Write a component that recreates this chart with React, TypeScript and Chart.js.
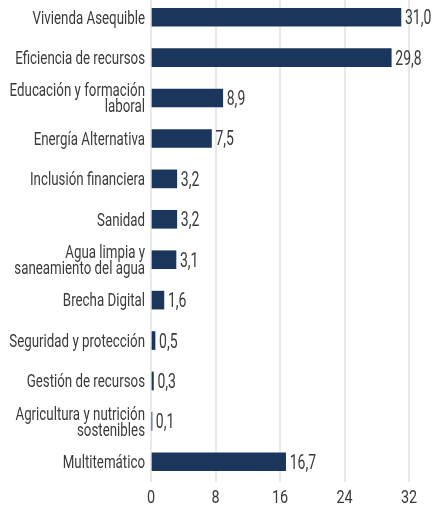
import React, { useEffect, useRef } from "react";
import { Chart, registerables } from "chart.js";

Chart.register(...registerables);

const categories: string[][] = [
  ["Vivienda Asequible"],
  ["Eficiencia de recursos"],
  ["Educación y formación", "laboral"],
  ["Energía Alternativa"],
  ["Inclusión financiera"],
  ["Sanidad"],
  ["Agua limpia y", "saneamiento del agua"],
  ["Brecha Digital"],
  ["Seguridad y protección"],
  ["Gestión de recursos"],
  ["Agricultura y nutrición", "sostenibles"],
  ["Multitemático"],
];

const values: number[] = [31.0, 29.8, 8.9, 7.5, 3.2, 3.2, 3.1, 1.6, 0.5, 0.3, 0.1, 16.7];

const xTicks: number[] = [0, 8, 16, 24, 32];

const FONT = "Roboto, 'DejaVu Sans Condensed', sans-serif";
const BAR_COLOR = "#1b365d";
const TEXT_COLOR = "#3a3a3a";
const GRID_COLOR = "#e9e9e9";

function narrowText(
  ctx: CanvasRenderingContext2D,
  text: string,
  x: number,
  y: number,
  align: CanvasTextAlign,
  size: number,
  sx: number
) {
  ctx.save();
  ctx.translate(x, y);
  ctx.scale(sx, 1);
  ctx.font = `${size}px ${FONT}`;
  ctx.textAlign = align;
  ctx.textBaseline = "alphabetic";
  ctx.fillStyle = TEXT_COLOR;
  ctx.fillText(text, 0, 0);
  ctx.restore();
}

const customText = {
  id: "customText",
  afterDraw(chart: any) {
    const ctx: CanvasRenderingContext2D = chart.ctx;
    const area = chart.chartArea;
    const yScale = chart.scales.y;
    const xScale = chart.scales.x;
    const meta = chart.getDatasetMeta(0);

    // category labels
    const catSize = 18.5;
    const pitch = 16;
    chart.data.labels.forEach((lab: string[], i: number) => {
      const cy = yScale.getPixelForValue(i);
      const n = lab.length;
      lab.forEach((line: string, j: number) => {
        const by = cy + (j - (n - 1) / 2) * pitch + 6.3;
        narrowText(ctx, line, area.left - 6, by, "right", catSize, 0.72);
      });
    });

    // value labels
    meta.data.forEach((bar: any, i: number) => {
      const v = chart.data.datasets[0].data[i] as number;
      narrowText(ctx, v.toFixed(1).replace(".", ","), bar.x + 4, bar.y + 7, "left", 20, 0.7);
    });

    // x tick labels
    xTicks.forEach((t) => {
      const px = xScale.getPixelForValue(t);
      narrowText(ctx, String(t), px, area.bottom + 21, "center", 18, 0.8);
    });
  },
};

export default function App() {
  const ref = useRef<HTMLCanvasElement | null>(null);

  useEffect(() => {
    document.body.style.margin = "0";
    if (!ref.current) return;
    const chart = new Chart(ref.current, {
      type: "bar",
      data: {
        labels: categories as any,
        datasets: [
          {
            data: values,
            backgroundColor: BAR_COLOR,
            barThickness: 18,
          },
        ],
      },
      options: {
        indexAxis: "y",
        animation: false,
        responsive: false,
        maintainAspectRatio: false,
        layout: { padding: { left: 0, right: 25, top: 0, bottom: 0 } },
        plugins: {
          legend: { display: false },
          tooltip: { enabled: false },
        },
        scales: {
          x: {
            min: 0,
            max: 32,
            afterBuildTicks: (scale: any) => {
              scale.ticks = xTicks.map((v) => ({ value: v }));
            },
            afterFit: (scale: any) => {
              scale.height = 23;
            },
            grid: { color: GRID_COLOR, lineWidth: 2, drawTicks: false },
            border: { display: false },
            ticks: { display: false },
          },
          y: {
            afterFit: (scale: any) => {
              scale.width = 151;
              scale.paddingTop = 0;
              scale.paddingBottom = 0;
            },
            grid: { display: false },
            border: { display: false },
            ticks: { display: false },
          },
        },
      },
      plugins: [customText],
    });
    return () => chart.destroy();
  }, []);

  return (
    <div style={{ position: "absolute", left: 0, top: -3, width: 434, height: 508 }}>
      <canvas ref={ref} width={434} height={508} style={{ display: "block" }} />
    </div>
  );
}
